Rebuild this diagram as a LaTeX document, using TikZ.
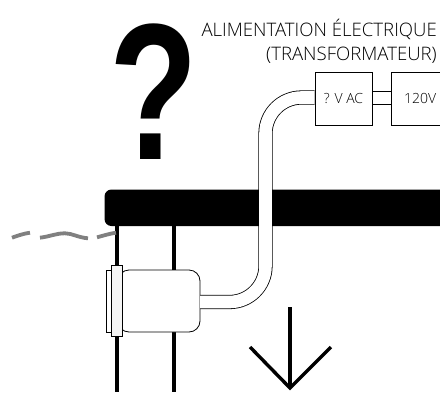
\documentclass[tikz,border=0pt]{standalone}
\usepackage{fontspec}
\setmainfont{Open Sans}[UprightFont=* Light]
\newfontfamily\markfont{Liberation Sans}
\usetikzlibrary{positioning}
\tikzset{
    thinbox/.style={draw, line width=.7pt, fill=white, minimum width=57pt, minimum height=53pt, inner sep=0pt, font=\fontsize{14}{16}\selectfont},
    tube/.style={double=white, double distance=12.6pt, line width=.8pt, rounded corners=36pt},
    wire/.style={line width=3.2pt},
    water/.style={line width=3.8pt, draw=gray},
    shell/.style={draw, line width=.8pt, fill=white}
}
\begin{document}
\begin{tikzpicture}[x=1pt, y=-1pt]
    \useasboundingbox (0,0) rectangle (440,392);
    % ceiling bar
    \fill[rounded corners=7pt] (460,189.5) -- (104.5,189.5) -- (104.5,226) -- (460,226) -- cycle;
    % wires
    \coordinate (w1a) at (117,226);
    \coordinate (w1b) at (117,392);
    \coordinate (w2a) at (174,226);
    \coordinate (w2b) at (174,392);
    \draw[wire] (w1a) -- (w1b);
    \draw[wire] (w2a) -- (w2b);
    % water
    \draw[water] (12,237.7) .. controls (18,235.5) and (24,233.5) .. (30,232.7);
    \draw[water] (40,237.7) .. controls (50,236.5) and (56,233.3) .. (65,233.3) .. controls (72,233.3) and (78,237.5) .. (88,238.3);
    \draw[water] (97,237.3) .. controls (104,235.5) and (110,233.5) .. (116,232.7);
    % transformer boxes
    \node[thinbox] (acbox) at (343.5,98.5) {? V AC};
    \node[thinbox, right=19pt of acbox] (mainsbox) {120V};
    % lamp
    \draw[shell] (106.5,270) rectangle (114,332);
    \draw[shell, rounded corners=11pt] (118,270) -- (200,270) -- (200,332) -- (118,332) -- cycle;
    \draw[shell, fill=black!4] (111.5,265) rectangle (122,336);
    \coordinate (lampout) at (200,302);
    % cable
    \draw[tube] (lampout) -- (265.5,302) -- (265.5,97.5) -- (acbox.west |- 0,97.5);
    \draw[line width=.7pt] (acbox.east |- 0,91) -- (mainsbox.west |- 0,91);
    \draw[line width=.7pt] (acbox.east |- 0,104) -- (mainsbox.west |- 0,104);
    % arrow
    \coordinate (arrtop) at (290,307);
    \coordinate (arrtip) at (290,388);
    \coordinate (arrl) at (250,347);
    \coordinate (arrr) at (331,347);
    \draw[line width=3.4pt] (arrtop) -- (arrtip);
    \draw[line width=3.4pt, miter limit=10] (arrl) -- (arrtip) -- (arrr);
    % labels
    \node[anchor=base east, align=right, inner sep=0pt, font=\fontsize{18.6}{23.5}\selectfont] (powerlabel) at (437,60.2) {ALIMENTATION ÉLECTRIQUE\\(TRANSFORMATEUR)};
    \node[inner sep=0pt, font=\markfont\bfseries\fontsize{186}{186}\selectfont] (question) at (154,92) {\scalebox{.78}[1.045]{?}};
\end{tikzpicture}
\end{document}
